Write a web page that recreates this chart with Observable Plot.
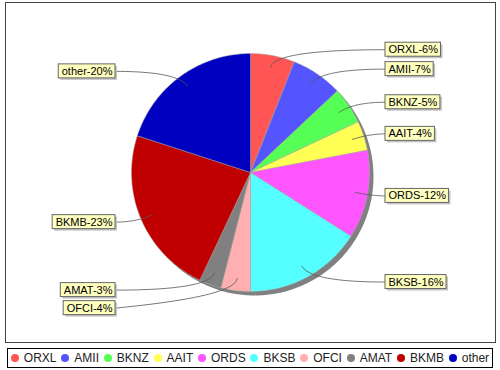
<!DOCTYPE html>
<html><head><meta charset="utf-8">
<script src="https://cdn.jsdelivr.net/npm/d3@7"></script>
<script src="https://cdn.jsdelivr.net/npm/@observablehq/plot@0.6"></script>
<style>
body{margin:0;background:#fff;font-family:"Liberation Sans",Arial,sans-serif;}
#chart svg{display:block;}
#legend{box-sizing:border-box;margin:4px 0 0 7px;width:486px;height:20px;border:1px solid #000;display:flex;align-items:center;justify-content:center;font-size:12px;color:#222;}
.item{display:flex;align-items:center;margin:0 2.4px;white-space:nowrap;}
.sw{width:8px;height:8px;border-radius:50%;margin-right:5px;}
</style></head><body>
<div id="chart"></div>
<div id="legend"></div>
<script>
const categories = ["ORXL","AMII","BKNZ","AAIT","ORDS","BKSB","OFCI","AMAT","BKMB","other"];
const shares = [6,7,5,4,12,16,4,3,23,20];
const colors = ["#FF5555","#5555FF","#55FF55","#FFFF55","#FF55FF","#55FFFF","#FFAFAF","#808080","#C00000","#0000C0"];

// layout constants
const cx = 250, cy = 172, R = 119;
const anchorR = 107, ctrlR = 125, labelOff = 135, boxH = 14, minGap = 18;

let cum = 0;
const slices = categories.map((name, i) => {
  const a0 = cum / 100 * 2 * Math.PI;
  cum += shares[i];
  const a1 = cum / 100 * 2 * Math.PI;
  return {name, value: shares[i], color: colors[i], a0, a1, mid: (a0 + a1) / 2};
});
const pt = (a, r, name) => ({x: cx + r * Math.sin(a), y: cy - r * Math.cos(a), name});

function wedge(s) {
  const pts = [pt(0, 0, s.name)];
  const n = Math.max(2, Math.ceil((s.a1 - s.a0) / (Math.PI / 180)));
  for (let k = 0; k <= n; k++) pts.push(pt(s.a0 + (s.a1 - s.a0) * k / n, R, s.name));
  pts.push(pt(0, 0, s.name));
  return pts;
}
const shadowPts = d3.range(0, 361).map(d => pt(d * Math.PI / 180, R, "shadow"));

// labels
const ctx = document.createElement("canvas").getContext("2d");
ctx.font = "11px 'Liberation Sans'";
const labels = slices.map(s => {
  const right = Math.sin(s.mid) >= 0;
  const text = `${s.name}-${s.value}%`;
  const w = ctx.measureText(text).width + 6;
  return {s, name: s.name, text, right, w, y: cy - ctrlR * Math.cos(s.mid)};
});
for (const side of [true, false]) {
  const arr = labels.filter(l => l.right === side).sort((a, b) => a.y - b.y);
  for (let i = 1; i < arr.length; i++) if (arr[i].y < arr[i - 1].y + minGap) arr[i].y = arr[i - 1].y + minGap;
}
labels.forEach(l => {
  if (l.right) { l.x0 = cx + labelOff; l.x1 = l.x0 + l.w; l.ex = l.x0; }
  else { l.x1 = cx - labelOff; l.x0 = l.x1 - l.w; l.ex = l.x1; }
  l.y0 = l.y - boxH / 2; l.y1 = l.y + boxH / 2;
});
const linkPts = labels.flatMap(l => {
  const c = pt(l.s.mid, ctrlR), a = pt(l.s.mid, anchorR);
  return d3.range(0, 25).map(k => {
    const t = k / 24, u = 1 - t;
    return {name: l.name, x: u*u*l.ex + 2*u*t*c.x + t*t*a.x, y: u*u*l.y + 2*u*t*c.y + t*t*a.y};
  });
});

const chart = Plot.plot({
  width: 500, height: 344,
  marginLeft: 5, marginRight: 5, marginTop: 2, marginBottom: 2,
  x: {domain: [5, 495], axis: null},
  y: {domain: [2, 342], reverse: true, axis: null},
  style: {fontFamily: "Liberation Sans, Arial, sans-serif", background: "#fff"},
  marks: [
    Plot.frame({stroke: "#444"}),
    Plot.line(shadowPts, {x: "x", y: "y", dx: 4, dy: 4, fill: "#808080", stroke: "none"}),
    ...slices.map(s => Plot.line(wedge(s), {x: "x", y: "y", fill: s.color, stroke: "#aaa", strokeWidth: 0.5, curve: "linear"})),
    Plot.line(linkPts, {x: "x", y: "y", z: "name", stroke: "#555", strokeWidth: 0.8}),
    Plot.rect(labels, {x1: "x0", x2: "x1", y1: "y0", y2: "y1", dx: 2, dy: 2, fill: "#c4c4c4"}),
    Plot.rect(labels, {x1: "x0", x2: "x1", y1: "y0", y2: "y1", fill: "#FFFFC0", stroke: "#666", strokeWidth: 1}),
    Plot.text(labels, {x: d => d.x0 + 3, y: "y", text: "text", textAnchor: "start", fontSize: 11, fill: "#000"})
  ]
});
document.getElementById("chart").append(chart);

const legend = document.getElementById("legend");
categories.forEach((c, i) => {
  const it = document.createElement("div"); it.className = "item";
  const sw = document.createElement("span"); sw.className = "sw"; sw.style.background = colors[i];
  it.append(sw, document.createTextNode(c));
  legend.append(it);
});
</script>
</body></html>
